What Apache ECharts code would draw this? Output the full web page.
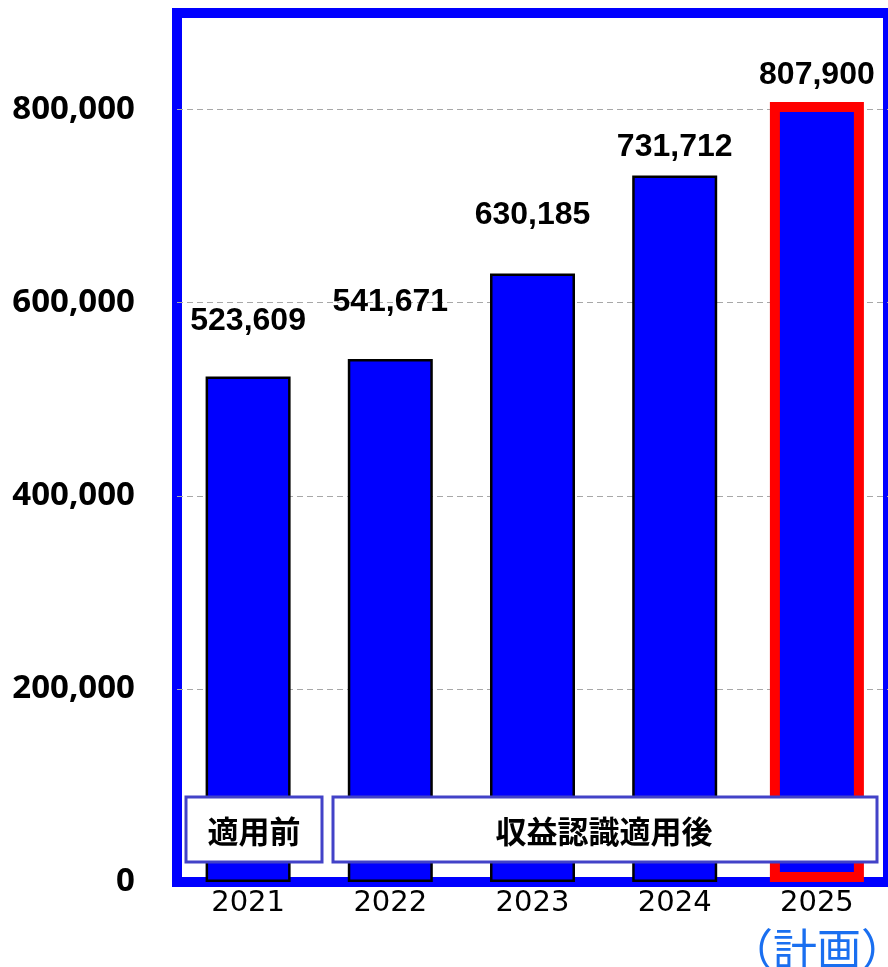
<!DOCTYPE html>
<html>
<head>
<meta charset="utf-8">
<script src="https://cdn.jsdelivr.net/npm/echarts@6/dist/echarts.min.js"></script>
<style>
html,body{margin:0;padding:0;background:#fff;overflow:hidden;}
#chart{width:888px;height:967px;}
</style>
</head>
<body>
<div id="chart"></div>
<script>
const categories = ['2021', '2022', '2023', '2024', '2025'];
const values = [523609, 541671, 630185, 731712, 807900];
const planIndex = 4;
const yTicks = [0, 200000, 400000, 600000, 800000];
const periodLabels = ['適用前', '収益認識適用後'];
const planLabel = '（計画）';

const labelGap = [38, 40, 41, 11, 10];

const chart = echarts.init(document.getElementById('chart'));

const actualData = values.map((v, i) => i === planIndex ? '-' : { value: v, label: { distance: labelGap[i] } });
const planData = values.map((v, i) => i === planIndex ? { value: v, label: { distance: labelGap[i] } } : '-');

const valueLabel = {
  show: true,
  position: 'top',
  fontFamily: 'Liberation Sans',
  fontWeight: 'bold',
  fontSize: 32,
  lineHeight: 34,
  color: '#000',
  formatter: p => p.value.toLocaleString('en-US')
};

chart.setOption({
  animation: false,
  grid: {
    left: 177, right: 0, top: 13, bottom: 85,
    outerBoundsMode: 'none',
    containLabel: false,
    show: true, borderColor: '#0000ff', borderWidth: 10, backgroundColor: 'transparent'
  },
  xAxis: [{
    type: 'category',
    data: categories,
    axisLine: { show: false },
    axisTick: { show: false },
    axisLabel: {
      interval: 0,
      hideOverlap: false,
      margin: 3,
      fontFamily: 'DejaVu Sans',
      fontSize: 29,
      color: '#000',
      lineHeight: 36,
      formatter: (v, i) => i === planIndex ? v + '\n{p|' + planLabel + '}' : v,
      rich: {
        p: {
          fontFamily: 'Noto Sans CJK JP',
          fontSize: 44,
          color: '#1a6ff0',
          lineHeight: 56
        }
      }
    }
  }, {
    type: 'category',
    data: categories,
    show: false
  }],
  yAxis: {
    type: 'value',
    min: 0,
    max: 900000,
    interval: 200000,
    axisLine: { show: false },
    axisTick: { show: false },
    splitLine: {
      showMinLine: false, showMaxLine: false,
      lineStyle: { type: [6, 4], color: '#a8a8a8', width: 1.2 }
    },
    axisLabel: {
      margin: 42,
      fontFamily: 'Noto Sans',
      fontWeight: 'bold',
      fontSize: 33,
      color: '#000',
      formatter: v => yTicks.indexOf(v) >= 0 ? v.toLocaleString('en-US') : ''
    }
  },
  series: [{
    type: 'bar',
    xAxisIndex: 0,
    data: actualData,
    barWidth: 85,
    itemStyle: { color: '#0000ff', borderColor: '#000', borderWidth: 2.5 },
    label: valueLabel
  }, {
    type: 'bar',
    xAxisIndex: 1,
    data: planData,
    barWidth: 94,
    itemStyle: { color: '#0000ff', borderColor: '#ff0000', borderWidth: 10 },
    label: valueLabel
  }],
  graphic: [
    {
      type: 'rect', z: 100,
      shape: { x: 186, y: 797, width: 136, height: 65 },
      style: { fill: '#fff', stroke: '#4242c8', lineWidth: 3 }
    },
    {
      type: 'text', z: 101,
      x: 254, y: 831,
      style: {
        text: periodLabels[0], fill: '#000',
        font: 'bold 31px "Noto Sans CJK JP"',
        align: 'center', verticalAlign: 'middle'
      }
    },
    {
      type: 'rect', z: 100,
      shape: { x: 333, y: 797, width: 544, height: 65 },
      style: { fill: '#fff', stroke: '#4242c8', lineWidth: 3 }
    },
    {
      type: 'text', z: 101,
      x: 604, y: 831,
      style: {
        text: periodLabels[1], fill: '#000',
        font: 'bold 31px "Noto Sans CJK JP"',
        align: 'center', verticalAlign: 'middle'
      }
    }
  ]
});
</script>
</body>
</html>
